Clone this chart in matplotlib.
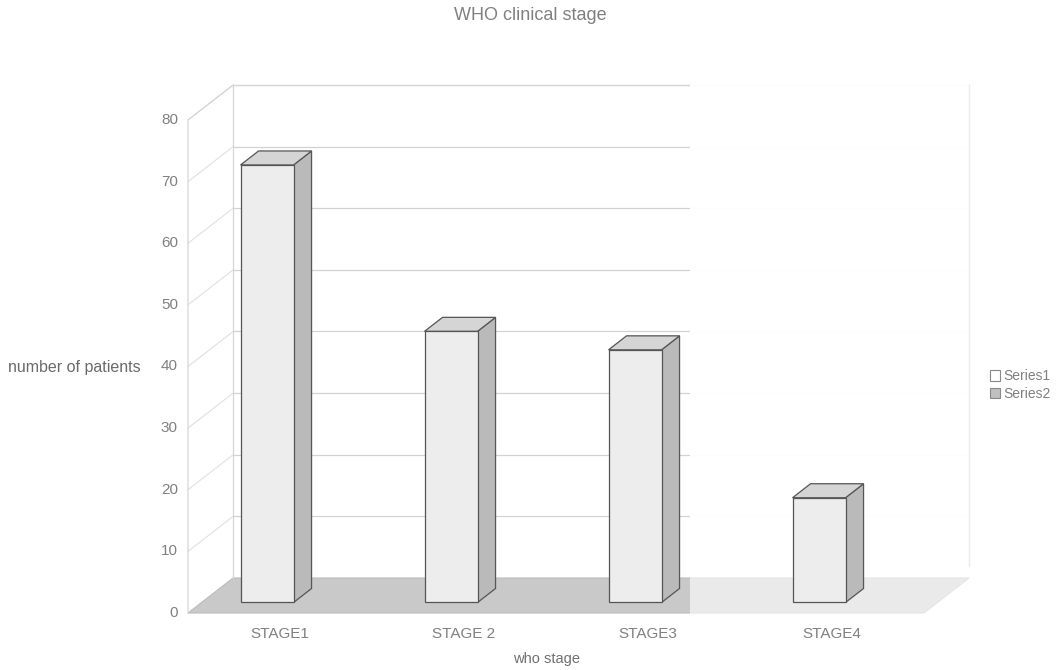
import numpy as np
import matplotlib
matplotlib.use("Agg")
import matplotlib.pyplot as plt
from matplotlib.patches import Polygon, Patch

plt.rcParams['font.family'] = ['Liberation Sans', 'DejaVu Sans']

# data
stages = ['STAGE1', 'STAGE 2', 'STAGE3', 'STAGE4']
series1 = [71, 44, 41, 17]
series2 = [0, 0, 0, 0]
yticks = [0, 10, 20, 30, 40, 50, 60, 70, 80]

# oblique 3d look: depth shift in data units
DX, DY = 0.245, 5.68
BAR_W = 0.288
D0, D1 = 0.3, 0.7


def proj(x, v, d):
    return (x + d * DX, v + d * DY)


fig = plt.figure(figsize=(10.59, 6.70), dpi=100)
ax = fig.add_axes([0, 0, 1, 1])
ax.set_xlim(-280 / 184, 779 / 184)
ax.set_ylim((613 - 670) / 6.1625, 613 / 6.1625)
ax.axis('off')

n = len(stages)
x_lo, x_hi = -0.5, n - 0.5
ymax = yticks[-1]
grid_c = '#d2d2d2'

# floor
floor = [proj(x_lo, 0, 0), proj(x_hi, 0, 0), proj(x_hi, 0, 1), proj(x_lo, 0, 1)]
ax.add_patch(Polygon(floor, closed=True, fc='#c9c9c9', ec='#bcbcbc', lw=0.8, zorder=1))

# back wall + left wall gridlines
for v in yticks[1:]:
    p0, p1 = proj(x_lo, v, 1), proj(x_hi, v, 1)
    ax.plot([p0[0], p1[0]], [p0[1], p1[1]], color=grid_c, lw=0.9, zorder=2)
    q0 = proj(x_lo, v, 0)
    ax.plot([q0[0], p0[0]], [q0[1], p0[1]], color='#e0e0e0', lw=0.8, zorder=2)

# wall frame
for pts in [[proj(x_lo, 0, 0), proj(x_lo, ymax, 0), proj(x_lo, ymax, 1)],
            [proj(x_lo, 0, 1), proj(x_lo, ymax, 1), proj(x_hi, ymax, 1)]]:
    xs, ys = zip(*pts)
    ax.plot(xs, ys, color='#d6d6d6', lw=0.9, zorder=2)

# washed-out patch on the right half
ax.add_patch(Polygon([(2.228, -0.4), (3.80, -0.4), (3.80, 88.5), (2.228, 88.5)],
                     closed=True, fc='white', ec='none', alpha=0.62, zorder=3))
ax.add_patch(Polygon([(2.228, 8), (3.80, 8), (3.80, 88.5), (2.228, 88.5)],
                     closed=True, fc='white', ec='none', alpha=0.9, zorder=3))
rx = proj(x_hi, 0, 1)[0]
ax.plot([rx, rx], [DY + 2, ymax + DY], color='#ececec', lw=1.0, zorder=3)

# bars (series1 sits in the left half of each category slot)
for i, v in enumerate(series1):
    left, right = i - BAR_W, i
    front = [proj(left, 0, D0), proj(right, 0, D0), proj(right, v, D0), proj(left, v, D0)]
    side = [proj(right, 0, D0), proj(right, 0, D1), proj(right, v, D1), proj(right, v, D0)]
    top = [proj(left, v, D0), proj(right, v, D0), proj(right, v, D1), proj(left, v, D1)]
    ax.add_patch(Polygon(side, closed=True, fc='#bababa', ec='#555555', lw=0.9, zorder=5))
    ax.add_patch(Polygon(top, closed=True, fc='#d5d5d5', ec='#555555', lw=0.9, zorder=5))
    ax.add_patch(Polygon(front, closed=True, fc='#ededed', ec='#555555', lw=0.9, zorder=6))

txt_c = '#808080'
for v in yticks:
    ax.text(x_lo - 0.055, v, str(v), ha='right', va='center', fontsize=11, color=txt_c)
for i, s in enumerate(stages):
    ax.text(i, -3.4, s, ha='center', va='center', fontsize=11, color=txt_c)

ax.text(1.45, -7.4, 'who stage', ha='center', va='center', fontsize=10.5, color='#707070')
fig.text(8 / 1059, 1 - 367 / 670, 'number of patients', ha='left', va='center',
         fontsize=11.5, color='#6a6a6a')
fig.text(530 / 1059, 1 - 16 / 670, 'WHO clinical stage', ha='center', va='center',
         fontsize=13, color='#808080')

handles = [Patch(fc='white', ec='#888888', lw=0.8), Patch(fc='#c0c0c0', ec='#888888', lw=0.8)]
leg = fig.legend(handles, ['Series1', 'Series2'], loc='center left',
                 bbox_to_anchor=(983 / 1059, 1 - 385 / 670), frameon=False,
                 fontsize=10, handlelength=0.75, handleheight=0.75, handletextpad=0.2,
                 labelspacing=0.25, borderpad=0)
for t in leg.get_texts():
    t.set_color(txt_c)

fig.savefig('out.png', dpi=100)
